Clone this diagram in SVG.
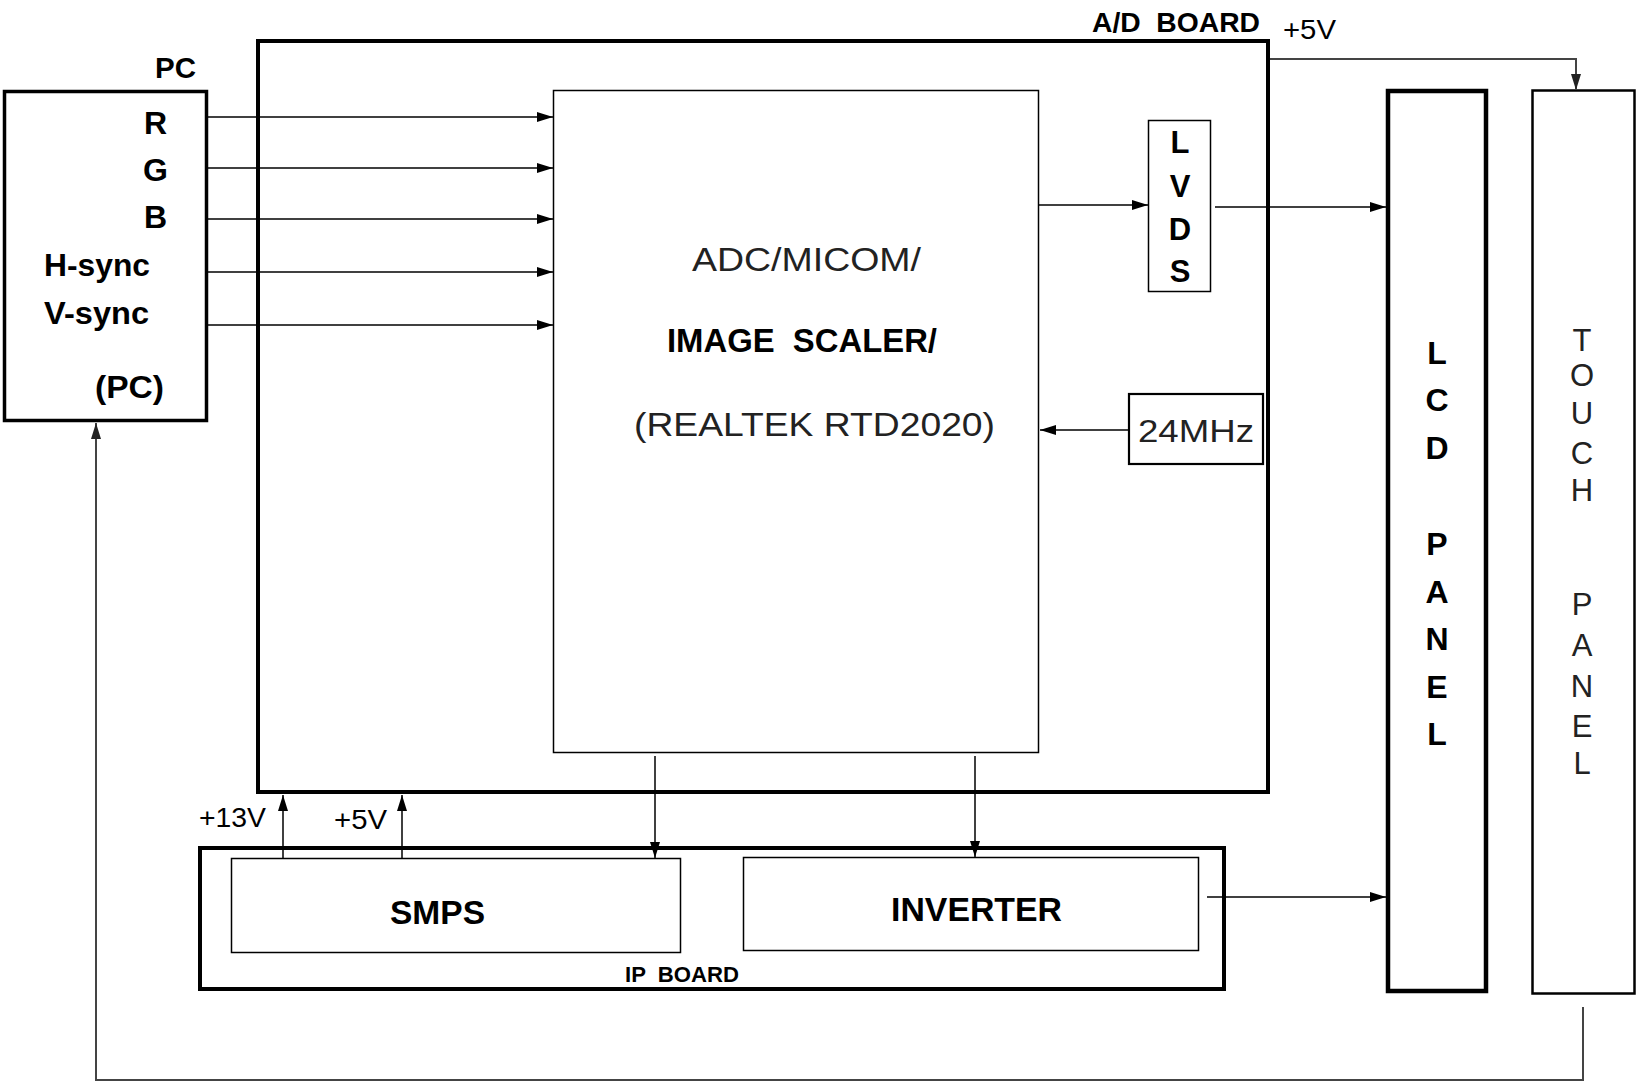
<svg xmlns="http://www.w3.org/2000/svg" width="1641" height="1082" viewBox="0 0 1641 1082">
<style>
.box{fill:#fff;stroke:#000}
.t{font-family:"Liberation Sans",Arial,Helvetica,sans-serif;fill:#000}
.b{font-weight:bold}
.g{fill:#222}
.w{fill:none;stroke:#000;stroke-width:1.5}
.wg{fill:none;stroke:#444;stroke-width:2}
</style>
<defs>
<marker id="ah" markerUnits="userSpaceOnUse" markerWidth="17" markerHeight="11" refX="16" refY="5" orient="auto">
<path d="M0,0 L16,5 L0,10 z" fill="#000"/>
</marker>
<marker id="ahg" markerUnits="userSpaceOnUse" markerWidth="17" markerHeight="11" refX="16" refY="5" orient="auto">
<path d="M0,0 L16,5 L0,10 z" fill="#222"/>
</marker>
</defs>
<rect width="1641" height="1082" fill="#fff"/>

<g id="ad-board">
<rect class="box" x="258" y="41" width="1010" height="751" stroke-width="4"/>
<text class="t b" x="1092" y="32" font-size="28" textLength="168" lengthAdjust="spacingAndGlyphs" xml:space="preserve">A/D  BOARD</text>
</g>

<g id="pc">
<rect class="box" x="4.5" y="91.5" width="202" height="329" stroke-width="3.5"/>
<text class="t b" x="155" y="78" font-size="29" textLength="41" lengthAdjust="spacingAndGlyphs">PC</text>
<text class="t b" x="144" y="134" font-size="32">R</text>
<text class="t b" x="143" y="181" font-size="32">G</text>
<text class="t b" x="144" y="228" font-size="32">B</text>
<text class="t b" x="44" y="276" font-size="32" textLength="106" lengthAdjust="spacingAndGlyphs">H-sync</text>
<text class="t b" x="44" y="324" font-size="32" textLength="105" lengthAdjust="spacingAndGlyphs">V-sync</text>
<text class="t b" x="95" y="398" font-size="32" textLength="69" lengthAdjust="spacingAndGlyphs">(PC)</text>
</g>

<g id="scaler">
<rect class="box" x="553.5" y="90.5" width="485" height="662" stroke-width="1.5"/>
<text class="t g" x="692" y="271" font-size="33" textLength="229" lengthAdjust="spacingAndGlyphs">ADC/MICOM/</text>
<text class="t b" x="667" y="352" font-size="33" textLength="270" lengthAdjust="spacingAndGlyphs" xml:space="preserve">IMAGE  SCALER/</text>
<text class="t g" x="634" y="436" font-size="33" textLength="361" lengthAdjust="spacingAndGlyphs">(REALTEK RTD2020)</text>
</g>

<g id="lvds">
<rect class="box" x="1148.5" y="120.5" width="62" height="171" stroke-width="1.5"/>
<g class="t b" font-size="31" text-anchor="middle">
<text x="1180" y="153">L</text>
<text x="1180" y="197">V</text>
<text x="1180" y="240">D</text>
<text x="1180" y="282">S</text>
</g>
</g>

<g id="osc">
<rect class="box" x="1129" y="394" width="134" height="70" stroke="#222" stroke-width="2.2"/>
<text class="t g" x="1138" y="442" font-size="31" textLength="116" lengthAdjust="spacingAndGlyphs">24MHz</text>
</g>

<g id="lcd-panel">
<rect class="box" x="1388" y="91" width="98" height="900" stroke-width="4.5"/>
<g class="t b" font-size="32" text-anchor="middle">
<text x="1437" y="364">L</text>
<text x="1437" y="411">C</text>
<text x="1437" y="459">D</text>
<text x="1437" y="555">P</text>
<text x="1437" y="603">A</text>
<text x="1437" y="650">N</text>
<text x="1437" y="698">E</text>
<text x="1437" y="745">L</text>
</g>
</g>

<g id="touch-panel">
<rect class="box" x="1532.5" y="90.5" width="102" height="903" stroke="#444" stroke-width="2.5"/>
<g class="t g" font-size="31" text-anchor="middle">
<text x="1582" y="351">T</text>
<text x="1582" y="386">O</text>
<text x="1582" y="424">U</text>
<text x="1582" y="464">C</text>
<text x="1582" y="501">H</text>
<text x="1582" y="615">P</text>
<text x="1582" y="656">A</text>
<text x="1582" y="697">N</text>
<text x="1582" y="737">E</text>
<text x="1582" y="774">L</text>
</g>
</g>

<g id="ip-board">
<rect class="box" x="200" y="848" width="1024" height="141" stroke-width="4"/>
<text class="t b" x="625" y="982" font-size="22" textLength="114" lengthAdjust="spacingAndGlyphs" xml:space="preserve">IP  BOARD</text>
</g>

<g id="smps">
<rect class="box" x="231.5" y="858.5" width="449" height="94" stroke-width="1.5"/>
<text class="t b" x="390" y="924" font-size="33" textLength="95" lengthAdjust="spacingAndGlyphs">SMPS</text>
</g>

<g id="inverter">
<rect class="box" x="743.5" y="857.5" width="455" height="93" stroke-width="1.5"/>
<text class="t b" x="891" y="921" font-size="33" textLength="171" lengthAdjust="spacingAndGlyphs">INVERTER</text>
</g>

<g id="connectors">
<path class="w" d="M208,117 H553" marker-end="url(#ah)"/>
<path class="w" d="M208,168 H553" marker-end="url(#ah)"/>
<path class="w" d="M208,219 H553" marker-end="url(#ah)"/>
<path class="w" d="M208,272 H553" marker-end="url(#ah)"/>
<path class="w" d="M208,325 H553" marker-end="url(#ah)"/>
<path class="w" d="M1039,205 H1148" stroke-width="2.2" marker-end="url(#ah)"/>
<path class="w" d="M1215,207 H1386" marker-end="url(#ah)"/>
<path class="w" d="M1128,430 H1040" stroke-width="2" marker-end="url(#ah)"/>
<path class="wg" d="M1270,59 H1576 V90" stroke="#333" marker-end="url(#ahg)"/>
<path class="w" d="M655,756 V858" marker-end="url(#ah)"/>
<path class="w" d="M975,756 V857" marker-end="url(#ah)"/>
<path class="w" d="M283,858 V795" stroke-width="2" marker-end="url(#ah)"/>
<path class="w" d="M402,858 V795" stroke-width="2" marker-end="url(#ah)"/>
<path class="w" d="M1207,897 H1386" stroke-width="2" marker-end="url(#ah)"/>
<path class="wg" d="M1583,1007 V1080 H96 V423" stroke="#555" marker-end="url(#ahg)"/>
<text class="t" x="1283" y="39" font-size="28" textLength="53" lengthAdjust="spacingAndGlyphs">+5V</text>
<text class="t" x="199" y="827" font-size="27" textLength="67" lengthAdjust="spacingAndGlyphs">+13V</text>
<text class="t" x="334" y="829" font-size="27" textLength="53" lengthAdjust="spacingAndGlyphs">+5V</text>
</g>
</svg>
